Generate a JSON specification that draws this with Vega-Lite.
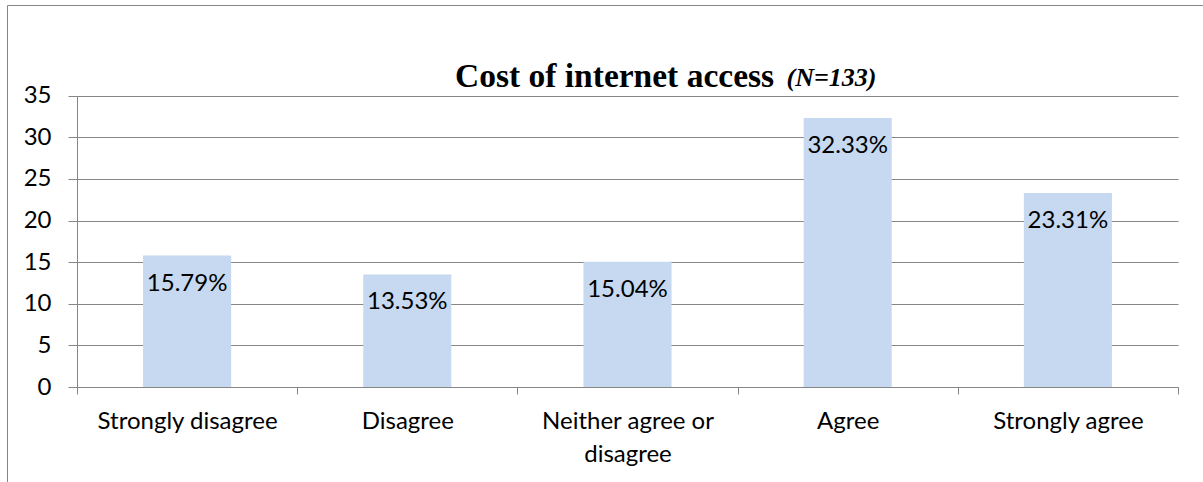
{
  "$schema": "https://vega.github.io/schema/vega-lite/v6.json",
  "width": 1196,
  "height": 477,
  "autosize": {"type": "none"},
  "padding": {"left": 7, "top": 5, "right": 0, "bottom": 0},
  "background": "white",
  "config": {
    "view": {"stroke": "#868686", "strokeWidth": 1}
  },
  "title": {
    "text": "Cost of internet access",
    "subtitle": "\u200b\u00a0\u00a0\u00a0\u00a0\u00a0\u00a0\u00a0\u00a0\u00a0\u00a0\u00a0\u00a0\u00a0\u00a0\u00a0\u00a0\u00a0\u00a0\u00a0\u00a0\u00a0\u00a0\u00a0\u00a0\u00a0\u00a0\u00a0\u00a0\u00a0\u00a0\u00a0\u00a0\u00a0\u00a0\u00a0\u00a0\u00a0\u00a0\u00a0\u00a0\u00a0\u00a0\u00a0\u00a0\u00a0\u00a0\u00a0\u00a0\u00a0\u00a0\u00a0(N=133)",
    "anchor": "start",
    "frame": "group",
    "orient": "top",
    "offset": -89,
    "dx": 448,
    "font": "Liberation Serif",
    "fontSize": 33.5,
    "fontWeight": "bold",
    "color": "black",
    "subtitleFont": "Liberation Serif",
    "subtitleFontSize": 26,
    "subtitleFontWeight": "bold",
    "subtitleFontStyle": "italic",
    "subtitleColor": "black",
    "subtitlePadding": -29.5
  },
  "data": {
    "values": [
      {"category": "Strongly disagree", "value": 15.79, "label": "15.79%"},
      {"category": "Disagree", "value": 13.53, "label": "13.53%"},
      {"category": "Neither agree or disagree", "value": 15.04, "label": "15.04%"},
      {"category": "Agree", "value": 32.33, "label": "32.33%"},
      {"category": "Strongly agree", "value": 23.31, "label": "23.31%"}
    ]
  },
  "encoding": {
    "x": {
      "field": "category",
      "type": "nominal",
      "sort": null,
      "scale": {"type": "band", "range": [70, 1171], "paddingInner": 0, "paddingOuter": 0},
      "axis": {
        "title": null,
        "orient": "bottom",
        "offset": -95,
        "grid": false,
        "domainColor": "#868686",
        "ticks": true,
        "tickColor": "#868686",
        "tickWidth": 1,
        "tickOpacity": 1,
        "tickSize": 7,
        "tickBand": "extent",
        "labelFont": "Lato",
        "labelFontSize": 24,
        "labelColor": "black",
        "labelAngle": 0,
        "labelPadding": 15,
        "labelLimit": 0,
        "labelLineHeight": 33,
        "labelExpr": "datum.label == 'Neither agree or disagree' ? ['Neither agree or', 'disagree'] : datum.label"
      }
    },
    "y": {
      "field": "value",
      "type": "quantitative",
      "scale": {"domain": [0, 35], "range": [382, 90.7], "nice": false, "zero": true},
      "axis": {
        "title": null,
        "offset": -70,
        "values": [0, 5, 10, 15, 20, 25, 30, 35],
        "grid": true,
        "gridColor": "#868686",
        "gridOpacity": 1,
        "gridWidth": 1,
        "domainColor": "#868686",
        "tickColor": "#868686",
        "tickSize": 9,
        "labelFont": "Lato",
        "labelFontSize": 24,
        "labelColor": "black",
        "labelPadding": 17
      }
    }
  },
  "layer": [
    {"mark": {"type": "bar", "color": "#c6d9f1", "width": {"band": 0.4}}},
    {
      "mark": {"type": "text", "baseline": "middle", "dy": 28, "font": "Lato", "fontSize": 24, "color": "black"},
      "encoding": {"text": {"field": "label"}}
    }
  ]
}
